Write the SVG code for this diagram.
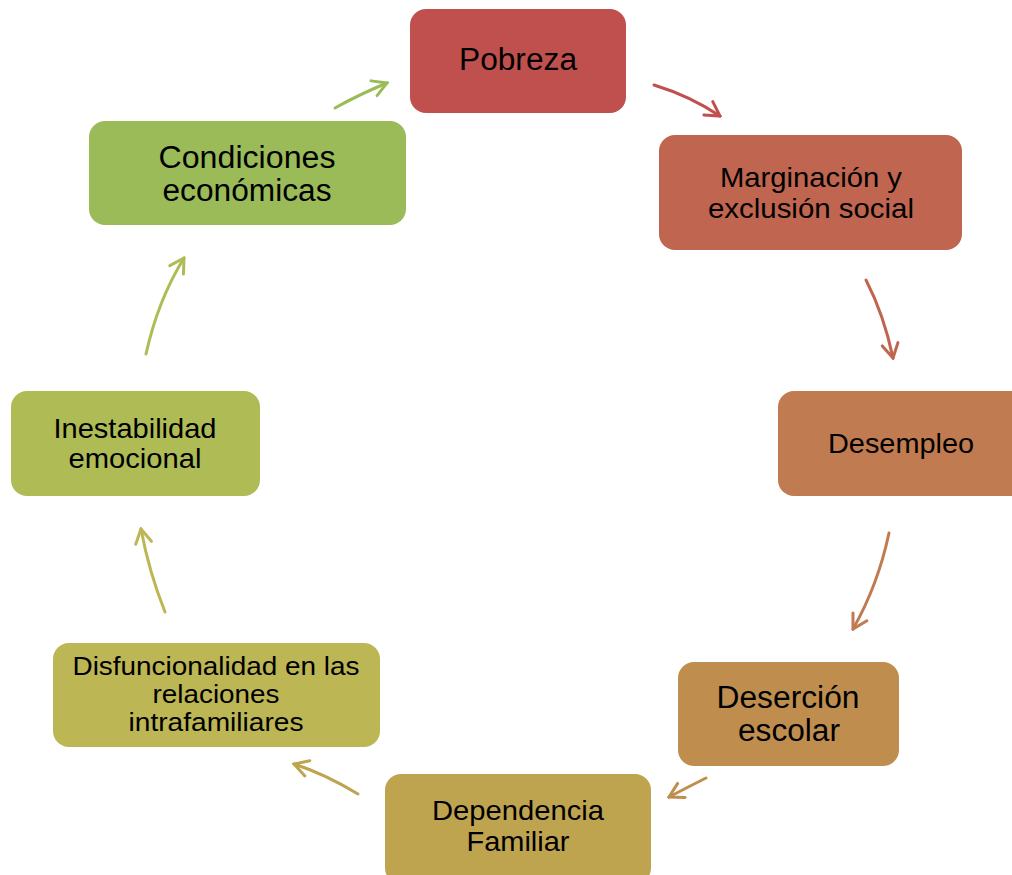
<svg xmlns="http://www.w3.org/2000/svg" width="1012" height="875" viewBox="0 0 1012 875">
<style>
text{font-family:"Liberation Sans",Arial,sans-serif;fill:#000;text-anchor:middle}
.c{fill:none;stroke-width:3;stroke-linecap:round}
</style>
<defs>
<marker id="m1" markerUnits="userSpaceOnUse" viewBox="0 0 20 20" refX="18" refY="10" markerWidth="20" markerHeight="20" orient="auto"><path d="M4,2 L18,10 L4,18" fill="none" stroke="#9BBB59" stroke-width="3" stroke-linecap="round"/></marker>
<marker id="m2" markerUnits="userSpaceOnUse" viewBox="0 0 20 20" refX="18" refY="10" markerWidth="20" markerHeight="20" orient="auto"><path d="M4,2 L18,10 L4,18" fill="none" stroke="#C0504D" stroke-width="3" stroke-linecap="round"/></marker>
<marker id="m3" markerUnits="userSpaceOnUse" viewBox="0 0 20 20" refX="18" refY="10" markerWidth="20" markerHeight="20" orient="auto"><path d="M4,2 L18,10 L4,18" fill="none" stroke="#C0654F" stroke-width="3" stroke-linecap="round"/></marker>
<marker id="m4" markerUnits="userSpaceOnUse" viewBox="0 0 20 20" refX="18" refY="10" markerWidth="20" markerHeight="20" orient="auto"><path d="M4,2 L18,10 L4,18" fill="none" stroke="#C07B50" stroke-width="3" stroke-linecap="round"/></marker>
<marker id="m5" markerUnits="userSpaceOnUse" viewBox="0 0 20 20" refX="18" refY="10" markerWidth="20" markerHeight="20" orient="auto"><path d="M4,2 L18,10 L4,18" fill="none" stroke="#BF8E4F" stroke-width="3" stroke-linecap="round"/></marker>
<marker id="m6" markerUnits="userSpaceOnUse" viewBox="0 0 20 20" refX="18" refY="10" markerWidth="20" markerHeight="20" orient="auto"><path d="M4,2 L18,10 L4,18" fill="none" stroke="#BEA44F" stroke-width="3" stroke-linecap="round"/></marker>
<marker id="m7" markerUnits="userSpaceOnUse" viewBox="0 0 20 20" refX="18" refY="10" markerWidth="20" markerHeight="20" orient="auto"><path d="M4,2 L18,10 L4,18" fill="none" stroke="#BDB655" stroke-width="3" stroke-linecap="round"/></marker>
<marker id="m8" markerUnits="userSpaceOnUse" viewBox="0 0 20 20" refX="18" refY="10" markerWidth="20" markerHeight="20" orient="auto"><path d="M4,2 L18,10 L4,18" fill="none" stroke="#AFBC56" stroke-width="3" stroke-linecap="round"/></marker>
</defs>
<g id="connectors">
<path class="c" stroke="#9BBB59" d="M335,108 Q360,94 387,83" marker-end="url(#m1)"/>
<path class="c" stroke="#C0504D" d="M654,85 Q690,96 720,116" marker-end="url(#m2)"/>
<path class="c" stroke="#C0654F" d="M866,280 Q884,315 893,358" marker-end="url(#m3)"/>
<path class="c" stroke="#C07B50" d="M889,533 Q878,585 853,629" marker-end="url(#m4)"/>
<path class="c" stroke="#BF8E4F" d="M706,778 Q688,787 669,797" marker-end="url(#m5)"/>
<path class="c" stroke="#BEA44F" d="M358,794 Q325,774 294,764" marker-end="url(#m6)"/>
<path class="c" stroke="#BDB655" d="M165,612 Q149,572 141,529" marker-end="url(#m7)"/>
<path class="c" stroke="#AFBC56" d="M146,354 Q158,300 184,258" marker-end="url(#m8)"/>
</g>
<g id="n1"><rect x="410" y="9" width="216" height="104" rx="16" fill="#C0504D"/><text x="518" y="70" font-size="31" textLength="118" lengthAdjust="spacingAndGlyphs">Pobreza</text></g>
<g id="n2"><rect x="659" y="135" width="303" height="115" rx="16" fill="#C0654F"/><text x="811" y="187" font-size="28" textLength="182" lengthAdjust="spacingAndGlyphs">Marginación y</text><text x="811" y="218" font-size="28" textLength="206" lengthAdjust="spacingAndGlyphs">exclusión social</text></g>
<g id="n3"><rect x="778" y="391" width="250" height="105" rx="16" fill="#C07B50"/><text x="901" y="453" font-size="28" textLength="146" lengthAdjust="spacingAndGlyphs">Desempleo</text></g>
<g id="n4"><rect x="678" y="662" width="221" height="104" rx="16" fill="#BF8E4F"/><text x="788" y="708" font-size="31" textLength="143" lengthAdjust="spacingAndGlyphs">Deserción</text><text x="789" y="741" font-size="31" textLength="102" lengthAdjust="spacingAndGlyphs">escolar</text></g>
<g id="n5"><rect x="385" y="774" width="266" height="110" rx="16" fill="#BEA44F"/><text x="518" y="820" font-size="28" textLength="172" lengthAdjust="spacingAndGlyphs">Dependencia</text><text x="518" y="851" font-size="28" textLength="103" lengthAdjust="spacingAndGlyphs">Familiar</text></g>
<g id="n6"><rect x="53" y="643" width="327" height="104" rx="16" fill="#BDB655"/><text x="216" y="675" font-size="26" textLength="287" lengthAdjust="spacingAndGlyphs">Disfuncionalidad en las</text><text x="216" y="703" font-size="26" textLength="127" lengthAdjust="spacingAndGlyphs">relaciones</text><text x="216" y="731" font-size="26" textLength="175" lengthAdjust="spacingAndGlyphs">intrafamiliares</text></g>
<g id="n7"><rect x="11" y="391" width="249" height="105" rx="16" fill="#AFBC56"/><text x="135" y="438" font-size="28" textLength="163" lengthAdjust="spacingAndGlyphs">Inestabilidad</text><text x="135" y="468" font-size="28" textLength="133" lengthAdjust="spacingAndGlyphs">emocional</text></g>
<g id="n8"><rect x="89" y="121" width="317" height="104" rx="16" fill="#9BBB59"/><text x="247" y="168" font-size="31" textLength="177" lengthAdjust="spacingAndGlyphs">Condiciones</text><text x="247" y="201" font-size="31" textLength="169" lengthAdjust="spacingAndGlyphs">económicas</text></g>
</svg>
